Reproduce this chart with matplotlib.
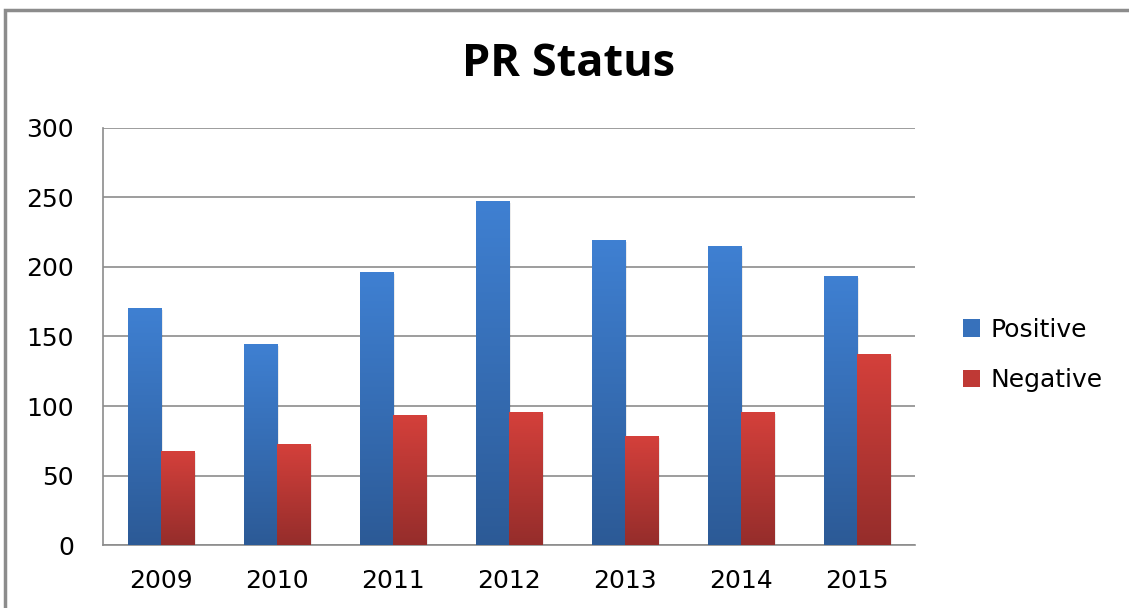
import numpy as np
import matplotlib.pyplot as plt
from matplotlib.patches import Rectangle, Patch
from matplotlib.colors import LinearSegmentedColormap

years = ['2009', '2010', '2011', '2012', '2013', '2014', '2015']
positive = [170, 144, 196, 247, 219, 215, 193]
negative = [67, 72, 93, 95, 78, 95, 137]

plt.rcParams['font.family'] = ['DejaVu Sans']

fig = plt.figure(figsize=(11.29, 6.08), dpi=100)
ax = fig.add_axes([0.0912, 0.1036, 0.7193, 0.6859])

blue_cmap = LinearSegmentedColormap.from_list('b', ['#2c5a96', '#3f80d2'])
red_cmap = LinearSegmentedColormap.from_list('r', ['#952d2b', '#d4403b'])

x = np.arange(len(years))
w = 0.285
grad = np.linspace(0, 1, 256).reshape(-1, 1)


def gradient_bars(xs, vals, cmap):
    bars = ax.bar(xs, vals, width=w, color='none', edgecolor='none', zorder=3)
    for b in bars:
        x0, y0 = b.get_x(), b.get_y()
        ax.imshow(grad, cmap=cmap, origin='lower', aspect='auto',
                  extent=[x0, x0 + b.get_width(), y0, y0 + b.get_height()],
                  zorder=3)
        # soft shadow
        ax.add_patch(Rectangle((x0 + 0.015, 0), b.get_width(), b.get_height() - 1,
                               facecolor='#000000', alpha=0.08, edgecolor='none', zorder=2.5))
    return bars


gradient_bars(x - w / 2, positive, blue_cmap)
gradient_bars(x + w / 2, negative, red_cmap)

ax.set_xlim(-0.5, len(years) - 0.5)
ax.set_ylim(0, 300)
ax.set_yticks(range(0, 301, 50))
ax.set_xticks(x)
ax.set_xticklabels(years)
ax.yaxis.grid(True, color='#8c8c8c', linewidth=1.2, zorder=0)
ax.set_axisbelow(True)
ax.tick_params(axis='both', length=0, labelsize=18, colors='#000000')
ax.tick_params(axis='x', pad=17)
ax.tick_params(axis='y', pad=21)
for s in ['top', 'right']:
    ax.spines[s].set_visible(False)
for s in ['left', 'bottom']:
    ax.spines[s].set_color('#8c8c8c')
    ax.spines[s].set_linewidth(1.2)

fig.text(569 / 1129, 1 - 65 / 608, 'PR Status', ha='center', va='center',
         fontsize=32.5, fontweight='bold', family='Open Sans')

handles = [Patch(facecolor='#3771bb', label='Positive'),
           Patch(facecolor='#bf3935', label='Negative')]
fig.legend(handles=handles, loc='center left', bbox_to_anchor=(0.8326, 1 - 355 / 608),
           frameon=False, fontsize=18, handlelength=0.7, handleheight=0.7,
           handletextpad=0.4, labelspacing=1.05)

fig.add_artist(Rectangle((5 / 1129, -0.1), 2, 1 - 10 / 608 + 0.1,
                         transform=fig.transFigure, fill=False,
                         edgecolor='#8c8c8c', linewidth=2.5))

fig.savefig('out.png', dpi=100)
